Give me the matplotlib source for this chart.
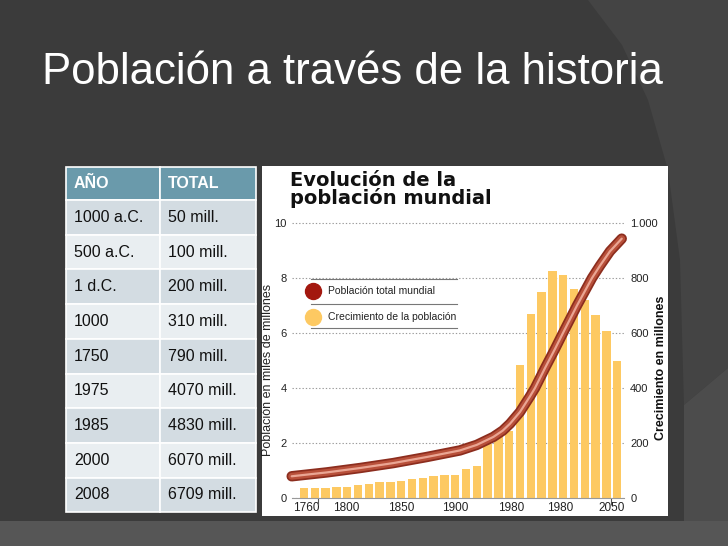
import numpy as np
import matplotlib
matplotlib.use("Agg")
import matplotlib.pyplot as plt
from matplotlib.patches import Rectangle, Polygon

plt.rcParams["font.family"] = ["Liberation Sans", "DejaVu Sans"]

# ---- datos ----
TITULO = "Población a través de la historia"
anios = ["1000 a.C.", "500 a.C.", "1 d.C.", "1000", "1750", "1975", "1985", "2000", "2008"]
totales = ["50 mill.", "100 mill.", "200 mill.", "310 mill.", "790 mill.",
           "4070 mill.", "4830 mill.", "6070 mill.", "6709 mill."]

# crecimiento (millones, eje derecho), una barra por periodo
crecimiento = [36, 36, 36, 40, 40, 48, 52, 57, 57, 61, 69, 73, 80, 84, 85,
               105, 115, 196, 224, 242, 482, 670, 748, 826, 810, 760, 720, 666, 606, 497]
# poblacion total (miles de millones, eje izquierdo), x en unidades de barra
pob_x = [-1.14, 2.1, 5.19, 8.27, 11.36, 14.44, 15.99, 17.53, 18.4, 19.07, 20.0,
         20.93, 21.39, 22.31, 23.24, 23.98, 25.28, 26.67, 27.41, 28.33, 29.42]
pob_y = [0.79, 0.93, 1.09, 1.27, 1.49, 1.73, 1.93, 2.22, 2.45, 2.70, 3.13,
         3.70, 4.0, 4.72, 5.42, 6.0, 7.0, 8.0, 8.45, 8.97, 9.43]

xtick_pos = [0.25, 3.95, 9.0, 14.0, 19.2, 23.7, 28.5]
xtick_lab = ["1760", "1800", "1850", "1900", "1980", "1980", "2050"]
ytick_izq = [0, 2, 4, 6, 8, 10]
ytick_der = [0, 200, 400, 600, 800, 1000]
ytick_der_lab = ["0", "200", "400", "600", "800", "1.000"]
leyenda = ["Población total mundial", "Crecimiento de la población"]

W, H = 728, 546
fig = plt.figure(figsize=(W / 100, H / 100), dpi=100)
fig.patch.set_facecolor("#3b3b3b")

# ---- fondo de la diapositiva (coordenadas en pixeles) ----
bg = fig.add_axes([0, 0, 1, 1])
bg.set_xlim(0, W); bg.set_ylim(H, 0); bg.axis("off")
bg.add_patch(Polygon([(588, 0), (622, 45), (648, 100), (668, 170), (680, 260), (684, 405),
                      (728, 368), (728, 0)], closed=True, fc="#444444", lw=0))
bg.add_patch(Polygon([(684, 405), (728, 368), (728, 546), (684, 546)], closed=True, fc="#4c4c4c", lw=0))
bg.add_patch(Rectangle((0, 521), W, 25, fc="#565656", lw=0))
bg.text(42, 84, TITULO, fontsize=31.5, color="white", va="baseline")

# tabla
x0, xm, x1 = 66, 160, 256
top, hh, rh = 166.5, 33.5, 34.7
for j, (xa, xb, lab) in enumerate([(x0, xm, "AÑO"), (xm, x1, "TOTAL")]):
    bg.add_patch(Rectangle((xa, top), xb - xa, hh, fc="#6a9aab", ec="white", lw=1.2))
    bg.text(xa + 8, top + hh / 2, lab, fontsize=11.5, fontweight="bold", color="white", va="center")
for i, (a, t) in enumerate(zip(anios, totales)):
    y = top + hh + i * rh
    fc = "#d3dce2" if i % 2 == 0 else "#e9eef1"
    bg.add_patch(Rectangle((x0, y), xm - x0, rh, fc=fc, ec="white", lw=1.2))
    bg.add_patch(Rectangle((xm, y), x1 - xm, rh, fc=fc, ec="white", lw=1.2))
    bg.text(x0 + 8, y + rh / 2, a, fontsize=11.5, color="#111111", va="center")
    bg.text(xm + 8, y + rh / 2, t, fontsize=11.5, color="#111111", va="center")

# panel blanco del grafico
bg.add_patch(Rectangle((262, 166), 406, 350, fc="white", lw=0))
bg.text(290, 171, "Evolución de la\npoblación mundial", fontsize=14, fontweight="bold",
        family="DejaVu Sans", color="#111111", va="top", linespacing=0.85)
bg.text(268, 370, "Población en miles de millones", rotation=90, fontsize=9,
        color="#222222", ha="center", va="center")
bg.text(661, 368, "Crecimiento en millones", rotation=90, fontsize=9, fontweight="bold",
        color="#111111", ha="center", va="center")

# ---- grafico ----
L, R, B, T = 292, 624, 498, 215
axb = fig.add_axes([L / W, (H - B) / H, (R - L) / W, (B - T) / H])
axb.set_facecolor("none")
axl = axb.twinx()          # linea encima de las barras

xi = np.arange(len(crecimiento))
axb.bar(xi, crecimiento, width=0.78, color="#fdc962", zorder=2)
axb.set_xlim((L - 304) / 10.8, (R - 304) / 10.8)
axb.set_ylim(0, 1029)
axb.yaxis.tick_right()
axb.set_yticks(ytick_der, ytick_der_lab)
axb.tick_params(axis="y", length=0, pad=4.5, labelsize=8, labelcolor="#222222")
axb.grid(axis="y", ls=(0, (1.2, 1.8)), color="#9a9a9a", lw=0.8)
axb.set_axisbelow(True)
for s in ["top", "left", "right"]:
    axb.spines[s].set_visible(False)
axb.spines["bottom"].set_color("#999999")
axb.set_xticks(xtick_pos, xtick_lab)
axb.tick_params(axis="x", length=0, pad=3, labelsize=8.5, labelcolor="#222222")
axb.set_xticks([1.3, 28.4], minor=True)
axb.tick_params(axis="x", which="minor", length=5, color="#555555", width=0.8)

axl.yaxis.tick_left()
axl.set_ylim(0, 10.29)
axl.set_yticks(ytick_izq)
axl.tick_params(axis="y", length=0, pad=4, labelsize=8, labelcolor="#222222")
for s in axl.spines.values():
    s.set_visible(False)
kw = dict(solid_capstyle="round", solid_joinstyle="round", clip_on=False)
axl.plot(pob_x, pob_y, color="#8c2d1e", lw=7.5, **kw)
axl.plot(pob_x, pob_y, color="#b8503a", lw=5, **kw)
axl.plot(pob_x, pob_y, color="#eaa593", lw=1.6, **kw)

# leyenda dibujada a mano
for yv in [7.96, 7.05, 6.18]:
    axl.plot([0.65, 14.2], [yv, yv], color="#777777", lw=0.8)
axl.plot([0.83], [7.53], "o", ms=11.5, color="#a3180f")
axl.plot([0.83], [6.58], "o", ms=11.5, color="#fdc962")
axl.text(2.2, 7.53, leyenda[0], fontsize=7.5, color="#222222", va="center")
axl.text(2.2, 6.58, leyenda[1], fontsize=7.5, color="#222222", va="center")

fig.savefig("out.png", dpi=100, facecolor=fig.get_facecolor())
